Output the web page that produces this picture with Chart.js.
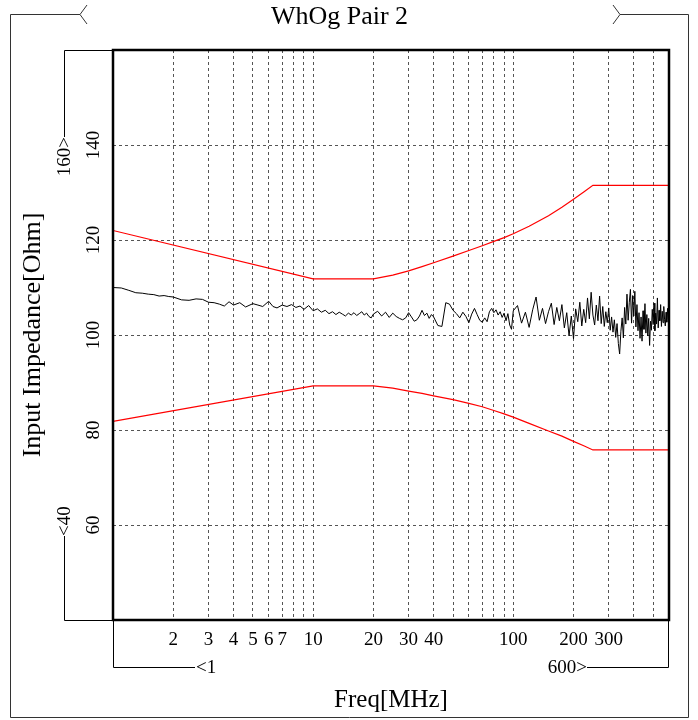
<!DOCTYPE html>
<html>
<head>
<meta charset="utf-8">
<script src="https://cdn.jsdelivr.net/npm/chart.js@4.4.1/dist/chart.umd.min.js"></script>
<style>
  html, body { margin: 0; padding: 0; background: #fff; }
  #wrap { position: relative; width: 698px; height: 720px; }
</style>
</head>
<body>
<div id="wrap"><canvas id="impedance-chart" width="698" height="720"></canvas></div>
<script>
// Data
const gridFreqs = [2, 3, 4, 5, 6, 7, 8, 9, 10, 20, 30, 40, 50, 60, 70, 80, 90, 100, 200, 300, 400, 500];
const freqLabels = [2, 3, 4, 5, 6, 7, 10, 20, 30, 40, 100, 200, 300];
const ohmTicks = [60, 80, 100, 120, 140];

// limit lines (red)
const upperFreq = [1, 10, 20, 25, 30, 35, 40, 50, 60, 70, 80, 90, 100, 120, 150, 175, 200, 225, 250, 600];
const upperOhm = [122.0, 111.8, 111.8, 112.6, 113.5, 114.4, 115.2, 116.6, 117.8, 118.8, 119.7, 120.5, 121.3, 122.9, 125.1, 126.9, 128.6, 130.1, 131.5, 131.5];
const lowerFreq = [1, 10, 20, 25, 30, 35, 40, 50, 60, 70, 80, 90, 100, 120, 150, 175, 200, 225, 250, 600];
const lowerOhm = [81.8, 89.3, 89.3, 88.8, 88.2, 87.7, 87.2, 86.4, 85.6, 84.9, 84.1, 83.4, 82.7, 81.4, 79.8, 78.7, 77.6, 76.7, 75.8, 75.8];

// measured pair 2 (black)
const traceFreq = [
  1, 1.1, 1.2, 1.3, 1.4, 1.5, 1.6, 1.7, 1.8, 1.9, 2, 2.2, 2.4, 2.6, 2.8, 3, 3.2, 3.4, 3.6, 3.8,
  4, 4.3, 4.6, 5, 5.3, 5.6, 6, 6.3, 6.6, 7, 7.4, 7.8, 8.2, 8.6, 9, 9.5, 10,
  10.5, 11, 11.5, 12, 12.5, 13, 13.5, 14, 14.5, 15, 15.5, 16, 16.5, 17, 17.5, 18, 18.5, 19, 19.5, 20,
  21, 22, 23, 24, 25, 26, 27, 28, 29, 30, 31, 32, 33, 34, 35, 36, 37, 38, 39, 40,
  42, 44, 46, 48, 50, 52, 54, 56, 58, 60, 62, 64, 66, 68, 70, 72, 74, 76, 78, 80,
  82, 84, 86, 88, 90, 92, 94, 96, 98, 100,
  105, 110, 115, 120, 125, 130, 135, 140, 145, 150, 155, 160, 165, 170, 175, 180, 185, 190, 195, 200,
  205, 210, 215, 220, 225, 230, 235, 240, 245, 250, 255, 260, 265, 270, 275, 280, 285, 290, 295, 300,
  305, 310, 315, 320, 325, 330, 335, 340, 345, 350, 355, 360, 365, 370, 375, 380, 385, 390, 395, 400,
  405, 410, 415, 420, 425, 430, 435, 440, 445, 450, 455, 460, 465, 470, 475, 480, 485, 490, 495, 500,
  505, 510, 515, 520, 525, 530, 535, 540, 545, 550, 555, 560, 565, 570, 575, 580, 585, 590, 595, 600
];
const traceOhm = [
  110.0, 109.9, 109.4, 108.9, 108.8, 108.6, 108.5, 108.2, 108.3, 108.1, 108.0, 107.4, 107.3, 107.6, 107.5, 106.9, 106.8, 106.5, 106.1, 107.0,
  106.3, 106.8, 105.9, 106.6, 106.3, 106.0, 107.1, 106.0, 105.7, 106.3, 106.0, 106.4, 105.8, 106.1, 105.4, 106.2, 105.1,
  105.5, 104.8, 105.2, 104.5, 104.9, 104.3, 104.8, 104.4, 104.0, 104.6, 104.2, 104.7, 104.1, 104.5, 104.9, 104.2, 104.6, 103.9, 103.6, 104.4,
  105.0, 104.0, 104.8, 103.7, 104.6, 103.9, 103.5, 103.2, 103.6, 104.7, 103.8, 102.9, 103.2, 104.0, 105.2, 104.1, 104.6, 103.5, 104.3, 103.8,
  102.0, 101.8, 106.8, 106.5, 105.2, 104.5, 103.6, 104.8, 103.9, 102.6, 104.4, 105.6, 104.3, 103.1, 102.7, 103.6, 102.8, 104.9, 105.6, 104.7,
  105.3, 104.2, 104.9, 103.7, 104.6, 103.0, 104.5, 102.1, 101.2, 105.1,
  106.2, 102.5, 104.8, 101.6, 105.3, 108.0, 103.1, 105.6, 102.4, 104.9, 106.7, 102.2, 105.8, 103.0, 106.4, 101.5, 104.7, 99.8, 104.0, 99.2,
  105.5, 102.8, 106.9, 101.9, 105.4, 102.6, 107.8, 103.4, 109.0, 104.2, 102.1, 106.3, 103.0, 108.2, 102.4, 106.0, 101.8, 104.9, 102.6, 105.7,
  101.0, 103.8, 100.6, 103.2, 99.5, 102.4, 98.2, 96.0, 100.8, 103.6, 99.4, 105.8, 102.3, 108.6, 103.1, 106.9, 109.6, 102.5, 108.3, 104.0,
  109.2, 101.7, 106.4, 100.9, 104.7, 99.3, 103.8, 98.7, 105.1, 101.2, 106.6, 100.4, 104.3, 99.8, 103.5, 97.8, 102.9, 101.0, 105.4, 102.2,
  106.7, 100.9, 104.6, 102.3, 107.8, 101.5, 105.2, 103.0, 106.4, 101.8, 105.0, 102.6, 106.0, 103.3, 101.9, 104.8, 102.7, 105.6, 103.4, 103.0
];

const FONT = "'Liberation Serif', 'DejaVu Serif', serif";

function toPoints(xs, ys) {
  return xs.map((x, i) => ({ x: x, y: ys[i] }));
}

// frame, brackets and end labels around the plot
const framePlugin = {
  id: "frame",
  afterDraw(chart) {
    const ctx = chart.ctx;
    const a = chart.chartArea;
    ctx.save();

    // outer box with the title chevrons
    ctx.strokeStyle = "#333";
    ctx.lineWidth = 1;
    ctx.beginPath();
    ctx.moveTo(80, 14.5); ctx.lineTo(10.5, 14.5); ctx.lineTo(10.5, 717.5);
    ctx.lineTo(688.5, 717.5); ctx.lineTo(688.5, 14.5); ctx.lineTo(620, 14.5);
    ctx.stroke();
    ctx.beginPath();
    ctx.moveTo(87, 5); ctx.lineTo(80, 14.5); ctx.lineTo(87, 24);
    ctx.moveTo(613, 5); ctx.lineTo(620, 14.5); ctx.lineTo(613, 24);
    ctx.stroke();

    // axis range brackets
    ctx.strokeStyle = "#000";
    ctx.beginPath();
    ctx.moveTo(a.left, a.top + 0.5); ctx.lineTo(64.5, a.top + 0.5); ctx.lineTo(64.5, 137);
    ctx.moveTo(64.5, 536); ctx.lineTo(64.5, a.bottom + 0.5); ctx.lineTo(a.left, a.bottom + 0.5);
    ctx.moveTo(a.left + 0.5, a.bottom); ctx.lineTo(a.left + 0.5, 667.5); ctx.lineTo(195, 667.5);
    ctx.moveTo(587, 667.5); ctx.lineTo(a.right - 0.5, 667.5); ctx.lineTo(a.right - 0.5, a.bottom);
    ctx.stroke();

    ctx.fillStyle = "#000";
    ctx.font = "19px " + FONT;
    ctx.textBaseline = "middle";
    ctx.textAlign = "left";
    ctx.fillText("<1", 196, 668);
    ctx.textAlign = "right";
    ctx.fillText("600>", 587, 668);

    ctx.save();
    ctx.translate(65, 137);
    ctx.rotate(-Math.PI / 2);
    ctx.textAlign = "right";
    ctx.fillText("160>", 0, 0);
    ctx.restore();
    ctx.save();
    ctx.translate(65, 536);
    ctx.rotate(-Math.PI / 2);
    ctx.textAlign = "left";
    ctx.fillText("<40", 0, 0);
    ctx.restore();

    // plot border
    ctx.lineWidth = 2.5;
    ctx.strokeStyle = "#000";
    ctx.strokeRect(a.left, a.top, a.right - a.left, a.bottom - a.top);
    ctx.restore();
  }
};

const ctx = document.getElementById("impedance-chart").getContext("2d");
new Chart(ctx, {
  type: "line",
  data: {
    datasets: [
      {
        label: "Upper limit",
        data: toPoints(upperFreq, upperOhm),
        borderColor: "#ff0000",
        borderWidth: 1.2,
        pointRadius: 0,
        tension: 0
      },
      {
        label: "Lower limit",
        data: toPoints(lowerFreq, lowerOhm),
        borderColor: "#ff0000",
        borderWidth: 1.2,
        pointRadius: 0,
        tension: 0
      },
      {
        label: "WhOg Pair 2",
        data: toPoints(traceFreq, traceOhm),
        borderColor: "#000000",
        borderWidth: 1,
        pointRadius: 0,
        tension: 0
      }
    ]
  },
  options: {
    responsive: false,
    animation: false,
    layout: { padding: { left: 10, right: 29, top: 0, bottom: 0 } },
    plugins: {
      legend: { display: false },
      tooltip: { enabled: false },
      title: {
        display: true,
        text: "WhOg Pair 2",
        color: "#000",
        font: { family: FONT, size: 26, weight: "normal", lineHeight: "30px" },
        padding: { top: 2, bottom: 18 }
      }
    },
    scales: {
      x: {
        type: "logarithmic",
        min: 1,
        max: 600,
        afterBuildTicks: s => { s.ticks = gridFreqs.map(v => ({ value: v })); },
        afterFit: s => { s.height = 100; },
        ticks: {
          autoSkip: false,
          minRotation: 0,
          maxRotation: 0,
          padding: 9,
          color: "#000",
          font: { family: FONT, size: 19 },
          callback: v => (freqLabels.includes(v) ? String(v) : "")
        },
        grid: { color: "#555", lineWidth: 1, drawTicks: false },
        border: { display: false, dash: [3, 3] },
        title: {
          display: true,
          text: "Freq[MHz]",
          color: "#000",
          font: { family: FONT, size: 25, lineHeight: "28px" },
          padding: { top: 0, bottom: 6 }
        }
      },
      y: {
        min: 40,
        max: 160,
        afterBuildTicks: s => { s.ticks = ohmTicks.map(v => ({ value: v })); },
        afterFit: s => { s.width = 103; },
        ticks: {
          minRotation: 90,
          maxRotation: 90,
          crossAlign: "center",
          padding: 5,
          color: "#000",
          font: { family: FONT, size: 19 }
        },
        grid: { color: "#555", lineWidth: 1, drawTicks: false },
        border: { display: false, dash: [3, 3] },
        title: {
          display: true,
          text: "Input Impedance[Ohm]",
          color: "#000",
          font: { family: FONT, size: 26, lineHeight: "30px" },
          padding: { top: 8, bottom: 0 }
        }
      }
    }
  },
  plugins: [framePlugin]
});
</script>
</body>
</html>
